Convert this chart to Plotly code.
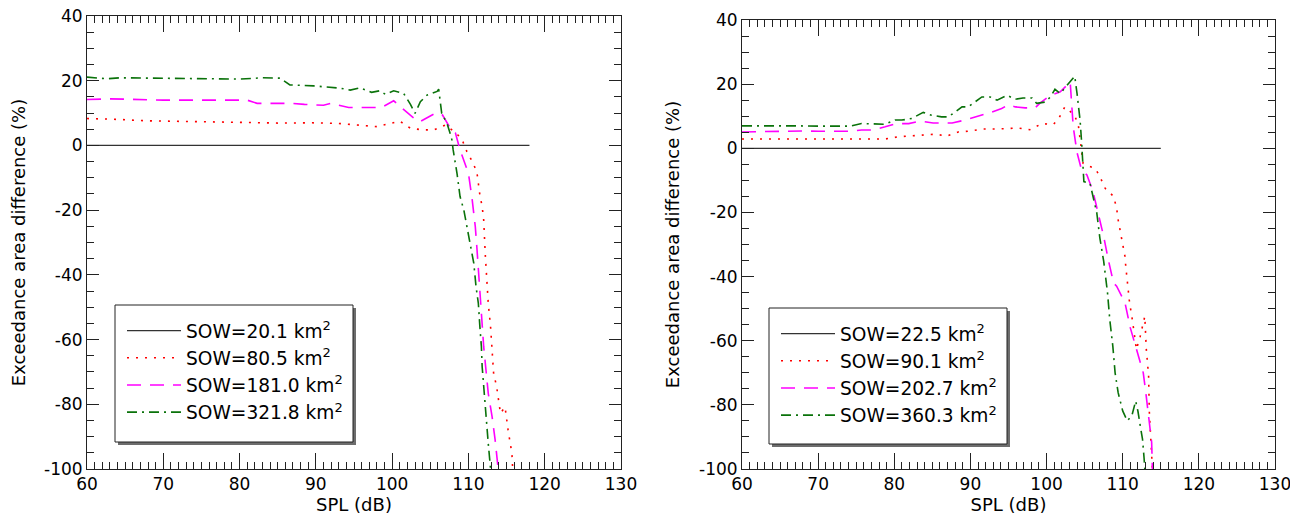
import plotly.graph_objects as go

# ---------------- data ----------------
# Left panel
L_ref_spl = [60, 118]
L_ref_val = [0, 0]

L_red_spl = [60, 63.5, 68, 72, 76.5, 81, 85, 89.5, 93, 96.3, 98, 101, 102.4, 104, 105.5, 107, 108,
             109.1, 109.8, 110.5, 111.1, 111.3, 111.5, 111.8, 112, 112.2, 112.4, 112.6, 112.9, 113.1,
             113.3, 113.7, 114.2, 114.8, 115.2, 115.7, 115.8]
L_red_val = [8.3, 8.1, 7.6, 7.5, 7.2, 7.1, 6.9, 7.0, 6.8, 6.1, 5.8, 7.5, 5.3, 4.8, 4.8, 6.3, 4.5,
             2.2, -1.9, -5, -8.1, -11.7, -15.3, -18.9, -23, -33.3, -41.6, -48.8, -56, -63.2,
             -70.4, -74.6, -82.8, -80.8, -88, -95.2, -100]

L_mag_spl = [60, 63, 70, 76, 81, 82.3, 86.8, 88.5, 91, 92, 94.3, 98.6, 100.2, 102.8, 103.6, 105.8,
             106.6, 107.9, 108.3, 108.9, 110, 110.5, 110.9, 111.1, 111.3, 111.5, 111.8, 112, 112.3,
             112.6, 113.1, 113.5, 113.9]
L_mag_val = [14.2, 14.4, 14.0, 14.0, 14.0, 13.0, 13.0, 12.7, 12.4, 13.0, 11.7, 11.7, 13.8, 8.5, 7.3, 10.1,
             9.4, 4.2, 3.8, -1.4, -8.6, -16.9, -25.1, -31.3, -38.5, -45.7, -54, -62.2, -69.4,
             -76.6, -83.8, -91, -100]

L_grn_spl = [60, 62.6, 64.4, 70, 75, 80, 83, 85.3, 86.6, 89.7, 93.2, 94.5, 95.8, 97.3, 98.4, 99.1,
             100.2, 101.5, 102.4, 103.0, 103.7, 104.6, 105.9, 106.1, 106.5, 107.2, 107.8, 108.0, 108.5,
             108.9, 109.4, 109.8, 110.2, 110.7, 111.0, 111.3, 111.5, 111.7, 111.8, 112.0, 112.2, 112.4,
             112.6, 112.9]
L_grn_val = [21.1, 20.6, 20.9, 20.7, 20.5, 20.5, 20.9, 20.8, 18.7, 18.4, 17.7, 17.1, 17.8, 16.4, 16.9, 15.8,
             16.9, 16.1, 12.7, 9.9, 13.5, 15.6, 16.7, 17.4, 9.9, 6.8, 2.2, -1.4, -8.6,
             -15.8, -20, -25, -30.3, -36.4, -43.7, -48.8, -56, -62.2, -68.4, -74.6, -81.8, -88,
             -92.1, -100]

# Right panel
R_ref_spl = [60, 115]
R_ref_val = [0, 0]

R_red_spl = [60, 65, 70, 75, 78.8, 80.6, 83.6, 85.4, 86.9, 88.4, 90, 91.7, 93.2, 94.6, 96.3, 97.8,
             99.4, 100.9, 101.6, 102.4, 103.7, 104.2, 104.4, 104.8, 105.5, 106.4, 107.0, 107.7, 108.8,
             109.2, 109.4, 110.0, 110.3, 110.4, 110.7, 110.9, 111.2, 111.5, 111.8, 112.3, 112.6, 112.9,
             113.1, 113.4, 113.5, 113.7, 113.8, 113.9]
R_red_val = [2.9, 2.9, 2.9, 2.9, 2.9, 3.6, 4.1, 4.4, 3.8, 5.1, 5.4, 6.0, 6.0, 6.1, 6.3, 5.8,
             7.7, 7.4, 9.3, 12.9, 10.3, 6.7, 2.5, -4.7, -5.5, -6.3, -8.8, -12.5, -15,
             -18.7, -22.3, -29.6, -33.8, -36.8, -44, -48.2, -52.4, -57.5, -62.7, -58.6, -55.5, -52.4,
             -62.7, -71, -82.4, -89.6, -94.8, -100]

R_mag_spl = [60, 63, 66.3, 68, 70, 72, 74.2, 75.7, 77.1, 78.8, 80.3, 81.9, 83.4, 85.1, 87.6, 89.3,
             91.5, 92.8, 94.1, 95, 95.9, 97.2, 98.5, 99.1, 100.5, 101.1, 101.8, 102.9, 103.1, 103.5,
             104.0, 104.6, 105.3, 106.1, 106.8, 107.5, 108.1, 108.8, 109.2, 110.3, 111.0, 111.8, 112.7,
             113.1, 113.6, 113.8, 113.9]
R_mag_val = [5.1, 5.3, 5.4, 5.4, 5.3, 5.3, 5.3, 5.7, 5.7, 6.7, 7.7, 7.7, 8.5, 7.9, 7.9, 8.8,
             10.3, 11.3, 12.4, 13.6, 12.9, 12.6, 12.6, 14.0, 16.5, 17.1, 17.6, 20.2, 20.7, 6.7,
             -1.3, -6.8, -8.3, -13.5, -20.2, -27.5, -34.7, -42, -43, -48.2, -56, -62.7, -70,
             -77.5, -86.5, -91.7, -100]

R_grn_spl = [60, 62.6, 64, 65.5, 67, 70, 72.5, 74.2, 75.7, 77.9, 78.8, 80.1, 81, 82.3, 83.8, 84.9,
             86.2, 87.1, 88, 88.9, 89.7, 90.6, 91.5, 92.6, 93.5, 94.8, 95.9, 96.9, 98.1, 98.7,
             99.8, 100.5, 101.1, 101.8, 102.7, 103.7, 104.0, 104.4, 104.6, 104.8, 104.9, 105.7, 106.1,
             106.6, 107.0, 107.5, 108.0, 108.3, 108.7, 109.0, 109.4, 110.0, 110.6, 111.2, 111.7, 112.0,
             112.3, 112.6, 112.8, 112.9]
R_grn_val = [7.0, 7.0, 7.2, 7.2, 7.0, 6.9, 6.9, 6.9, 7.7, 7.7, 7.5, 8.8, 8.8, 9.3, 11.2, 10.3,
             9.8, 9.8, 11.3, 12.9, 12.9, 14.4, 16.0, 16.0, 15.0, 16.5, 15.3, 15.7, 15.7, 14.0,
             14.4, 16.0, 18.4, 17.1, 19.6, 22.5, 17.1, 8.8, 2.0, -6.8, -10.4, -10.9, -15,
             -20.2, -28, -35.2, -45, -53.4, -61.7, -70, -76.2, -81.9, -85, -83.4, -78.8, -82,
             -86.5, -90.7, -96.4, -100]

L_names = ["SOW=20.1 km<sup>2</sup>", "SOW=80.5 km<sup>2</sup>", "SOW=181.0 km<sup>2</sup>", "SOW=321.8 km<sup>2</sup>"]
R_names = ["SOW=22.5 km<sup>2</sup>", "SOW=90.1 km<sup>2</sup>", "SOW=202.7 km<sup>2</sup>", "SOW=360.3 km<sup>2</sup>"]

x_ticks = [60, 70, 80, 90, 100, 110, 120, 130]
x_tick_text = ["60", "70", "80", "90", "100", "110", "120", "130"]
y_ticks = [-100, -80, -60, -40, -20, 0, 20, 40]
y_tick_text = ["-100", "-80", "-60", "-40", "-20", "0", "20", "40"]

# ---------------- styles ----------------
styles = [
    dict(color="#333333", width=1.2, dash="solid"),
    dict(color="#ff0000", width=1.6, dash="2px,7px"),
    dict(color="#ff00ff", width=1.6, dash="14px,9px"),
    dict(color="#0a720a", width=1.6, dash="10px,5px,2px,5px"),
]

fig = go.Figure()
L_data = [(L_ref_spl, L_ref_val), (L_red_spl, L_red_val), (L_mag_spl, L_mag_val), (L_grn_spl, L_grn_val)]
R_data = [(R_ref_spl, R_ref_val), (R_red_spl, R_red_val), (R_mag_spl, R_mag_val), (R_grn_spl, R_grn_val)]

for (xs, ys), name, st in zip(L_data, L_names, styles):
    fig.add_trace(go.Scatter(x=xs, y=ys, mode="lines", name=name, line=st,
                             xaxis="x", yaxis="y", legend="legend"))
for (xs, ys), name, st in zip(R_data, R_names, styles):
    fig.add_trace(go.Scatter(x=xs, y=ys, mode="lines", name=name, line=st,
                             xaxis="x2", yaxis="y2", legend="legend2"))

FONT = "DejaVu Sans"
OFF = 8                      # page body margin of the HTML page
W, H = 1298 - OFF, 515 - OFF
ML, MR, MT, MB = 87 - OFF, 23, 16 - OFF, 46
PW = W - ML - MR
PH = H - MT - MB


def px_x(p):
    return (p - OFF - ML) / PW


def px_y(p):
    return (H - MB - (p - OFF)) / PH


AX = "#222"
tick_common = dict(ticks="inside", tickcolor=AX, tickwidth=1,
                   showgrid=False, zeroline=False, automargin=False)
x_minor = dict(tickmode="linear", tick0=60, dtick=1, ticks="inside", ticklen=7,
               tickcolor=AX, tickwidth=1, showgrid=False)
y_minor = dict(tickmode="linear", tick0=-100, dtick=5, ticks="inside", ticklen=7,
               tickcolor=AX, tickwidth=1, showgrid=False)

xcfg = dict(tick_common, showline=True, linecolor=AX, linewidth=1, mirror="ticks",
            range=[60, 130], tickmode="array", tickvals=x_ticks, ticktext=x_tick_text, ticklen=16,
            minor=x_minor, tickfont=dict(family=FONT, size=17, color="black"),
            ticklabeloverflow="allow",
            title=dict(text="SPL (dB)", font=dict(family=FONT, size=18, color="black"), standoff=2))
ycfg = dict(tick_common, showline=True, linecolor=AX, linewidth=1, mirror="ticks",
            range=[-100, 40], tickmode="array", tickvals=y_ticks, ticktext=y_tick_text, ticklen=12,
            minor=y_minor, tickfont=dict(family=FONT, size=17, color="black"),
            ticklabeloverflow="allow",
            title=dict(text="Exceedance area difference (%)", font=dict(family=FONT, size=18, color="black"),
                       standoff=14))
# helper axes that only draw the inside ticks on the labelled sides
x_tick_only = dict(tick_common, showline=False, showticklabels=False, range=[60, 130],
                   tickmode="array", tickvals=x_ticks, ticklen=16, minor=x_minor, side="bottom")
y_tick_only = dict(tick_common, showline=False, showticklabels=False, range=[-100, 40],
                   tickmode="array", tickvals=y_ticks, ticklen=12, minor=y_minor, side="left")

legend_common = dict(
    bgcolor="rgba(0,0,0,0)", borderwidth=0,
    font=dict(family=FONT, size=18.6, color="black"),
    xanchor="left", yanchor="top", itemwidth=54,
)

# legend frames (box + drop shadow), in pixel positions of the reference
frames = [(115, 305, 353, 442), (769, 308, 1007, 444)]
shapes = []
for (x0, y0, x1, y1) in frames:
    shapes.append(dict(type="rect", xref="paper", yref="paper",
                       x0=px_x(x0 + 3), x1=px_x(x1 + 3), y0=px_y(y1 + 3), y1=px_y(y0 + 3),
                       line=dict(width=0), fillcolor="rgba(60,60,60,0.75)", layer="above"))
    shapes.append(dict(type="rect", xref="paper", yref="paper",
                       x0=px_x(x0), x1=px_x(x1), y0=px_y(y1), y1=px_y(y0),
                       line=dict(color="#222", width=1), fillcolor="white", layer="above"))

fig.update_layout(
    width=W, height=H,
    margin=dict(l=ML, r=MR, t=MT, b=MB, autoexpand=False),
    paper_bgcolor="white", plot_bgcolor="white",
    xaxis=dict(xcfg, domain=[0, px_x(621)], anchor="y"),
    yaxis=dict(ycfg, domain=[0, 1], anchor="x"),
    xaxis2=dict(xcfg, domain=[px_x(742), 1], anchor="y2"),
    yaxis2=dict(ycfg, domain=[0, px_y(20)], anchor="x2"),
    xaxis3=dict(x_tick_only, overlaying="x", anchor="y"),
    yaxis3=dict(y_tick_only, overlaying="y", anchor="x"),
    xaxis4=dict(x_tick_only, overlaying="x2", anchor="y2"),
    yaxis4=dict(y_tick_only, overlaying="y2", anchor="x2"),
    legend=dict(legend_common, x=px_x(122), y=px_y(312)),
    legend2=dict(legend_common, x=px_x(776), y=px_y(315)),
    shapes=shapes,
    showlegend=True,
)

fig.write_html("out.html")
